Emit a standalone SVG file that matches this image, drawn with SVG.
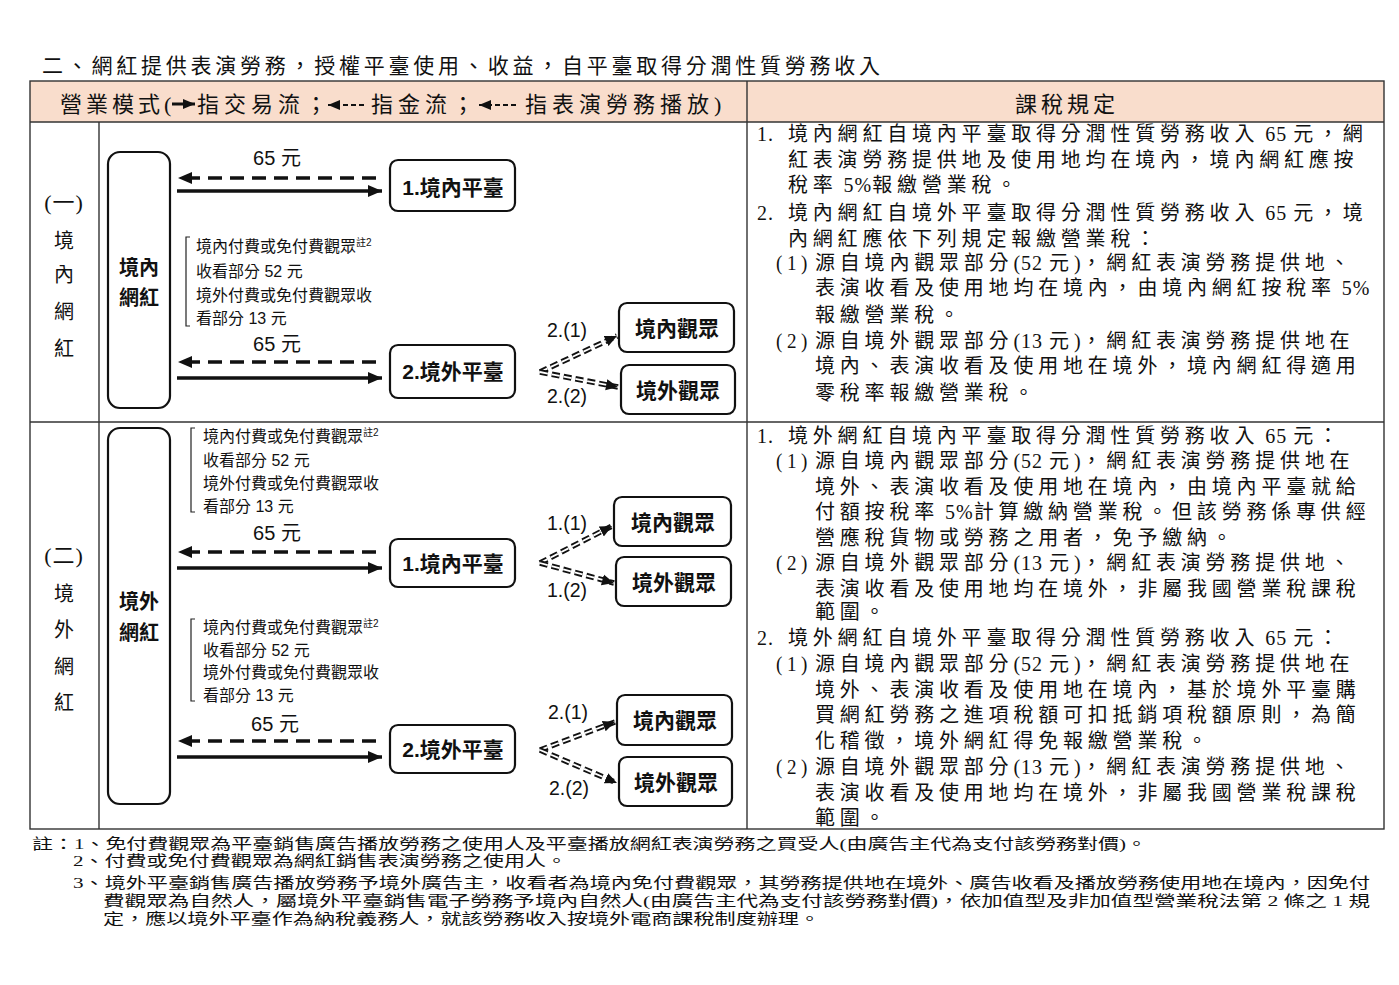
<svg xmlns="http://www.w3.org/2000/svg" width="1399" height="985" viewBox="0 0 1399 985">
<defs>
<style>
.bg{fill:#ffffff}
.tbl{fill:none;stroke:#333;stroke-width:1.4}
.hdr{fill:#F9DDCC}
.ser{font-family:"Liberation Serif","Noto Sans CJK TC",serif;fill:#111}
.sans{font-family:"Liberation Sans","Noto Sans CJK TC",sans-serif;fill:#111}
.r{font-size:20px;letter-spacing:4.8px}
.la{letter-spacing:1px}
.t{font-size:21px}
.h{font-size:22px;letter-spacing:5px}
.h1{font-size:22px;letter-spacing:4px}
.ft{font-size:15px}
.lbl{font-size:20px;text-anchor:middle}
.lp{font-size:22px;letter-spacing:1px}
.box{fill:#fff;stroke:#111;stroke-width:2.2}
.bt{font-size:21px;font-weight:bold;text-anchor:middle}
.bt2{font-size:20px;font-weight:bold;text-anchor:middle}
.amt{font-size:20px;text-anchor:middle}
.note{font-size:16px}
.sup{font-size:10px}
.num{font-size:19.5px;text-anchor:middle}
.brk{fill:none;stroke:#222;stroke-width:1.2}
.money{fill:none;stroke:#111;stroke-width:3.5;stroke-dasharray:14 8}
.trade{fill:none;stroke:#111;stroke-width:3.5}
.dbl1{fill:none;stroke:#111;stroke-width:5.5;stroke-dasharray:8 4}
.dbl2{fill:none;stroke:#fff;stroke-width:1.8;stroke-dasharray:8 4}
</style>
<marker id="ah" markerUnits="userSpaceOnUse" markerWidth="14" markerHeight="14" viewBox="0 0 14 14" refX="14" refY="7" orient="auto">
<path d="M0,1 L14,7 L0,13 z" fill="#111"/>
</marker>
<marker id="ahs" markerUnits="userSpaceOnUse" markerWidth="12" markerHeight="12" viewBox="0 0 12 12" refX="12" refY="6" orient="auto">
<path d="M0,1 L12,6 L0,11 z" fill="#111"/>
</marker>
<marker id="ahd" markerUnits="userSpaceOnUse" markerWidth="12" markerHeight="12" viewBox="0 0 12 12" refX="12" refY="6" orient="auto">
<path d="M0,0.5 L12,6 L0,11.5 z" fill="#111"/>
</marker>
</defs>
<rect class="bg" x="0" y="0" width="1399" height="985"/>

<g id="title">
<text class="ser t" x="42" y="73" textLength="838" lengthAdjust="spacing">二、網紅提供表演勞務，授權平臺使用、收益，自平臺取得分潤性質勞務收入</text>
</g>

<g id="table">
<rect class="hdr" x="30" y="81" width="1354" height="41"/>
<rect class="tbl" x="30" y="81" width="1354" height="748"/>
<line class="tbl" x1="30" y1="122" x2="1384" y2="122"/>
<line class="tbl" x1="30" y1="422" x2="1384" y2="422"/>
<line class="tbl" x1="747" y1="81" x2="747" y2="829"/>
<line class="tbl" x1="99" y1="122" x2="99" y2="829"/>
</g>

<g id="header">
<text class="ser h1" x="60" y="112">營業模式(</text>
<line class="trade" x1="172" y1="104" x2="195" y2="104" style="stroke-width:3" marker-end="url(#ahs)"/>
<text class="ser h" x="197" y="112">指交易流；</text>
<path d="M364,105 H328" fill="none" stroke="#111" stroke-width="2" stroke-dasharray="5 3" marker-end="url(#ahs)"/>
<text class="ser h" x="371" y="112">指金流；</text>
<path d="M516,105 H479" fill="none" stroke="#111" stroke-width="2" stroke-dasharray="5 3" marker-end="url(#ahs)"/>
<text class="ser h" x="525" y="112">指表演勞務播放)</text>
<text class="ser h1" x="1067" y="112" text-anchor="middle">課稅規定</text>
</g>

<g id="row1-label">
<text class="ser lbl lp" x="64" y="210">(一)</text>
<text class="ser lbl" x="64" y="248">境</text>
<text class="ser lbl" x="64" y="282">內</text>
<text class="ser lbl" x="64" y="319">網</text>
<text class="ser lbl" x="64" y="356">紅</text>
</g>
<g id="row2-label">
<text class="ser lbl lp" x="64" y="563">(二)</text>
<text class="ser lbl" x="64" y="601">境</text>
<text class="ser lbl" x="64" y="637">外</text>
<text class="ser lbl" x="64" y="674">網</text>
<text class="ser lbl" x="64" y="710">紅</text>
</g>

<!-- Row 1 nodes -->
<g id="n-domestic-influencer">
<rect class="box" x="108" y="152" width="62" height="256" rx="12"/>
<text class="sans bt2" x="139" y="275">境內</text>
<text class="sans bt2" x="139" y="305">網紅</text>
</g>
<g id="n1-domestic-platform">
<rect class="box" x="390" y="160" width="125" height="51" rx="8"/>
<text class="sans bt" x="453" y="195">1.境內平臺</text>
</g>
<g id="n1-foreign-platform">
<rect class="box" x="390" y="345" width="125" height="53" rx="8"/>
<text class="sans bt" x="453" y="379">2.境外平臺</text>
</g>
<g id="n1-dom-aud">
<rect class="box" x="619" y="303" width="115" height="49" rx="8"/>
<text class="sans bt" x="677" y="336">境內觀眾</text>
</g>
<g id="n1-for-aud">
<rect class="box" x="621" y="365" width="114" height="49" rx="8"/>
<text class="sans bt" x="678" y="398">境外觀眾</text>
</g>

<!-- Row 2 nodes -->
<g id="n-foreign-influencer">
<rect class="box" x="108" y="428" width="62" height="376" rx="12"/>
<text class="sans bt2" x="139" y="609">境外</text>
<text class="sans bt2" x="139" y="640">網紅</text>
</g>
<g id="n2-domestic-platform">
<rect class="box" x="390" y="539" width="125" height="48" rx="8"/>
<text class="sans bt" x="453" y="571">1.境內平臺</text>
</g>
<g id="n2-foreign-platform">
<rect class="box" x="390" y="725" width="125" height="48" rx="8"/>
<text class="sans bt" x="453" y="757">2.境外平臺</text>
</g>
<g id="n2a-dom-aud">
<rect class="box" x="614" y="497" width="117" height="49" rx="8"/>
<text class="sans bt" x="673" y="530">境內觀眾</text>
</g>
<g id="n2a-for-aud">
<rect class="box" x="616" y="557" width="115" height="49" rx="8"/>
<text class="sans bt" x="674" y="590">境外觀眾</text>
</g>
<g id="n2b-dom-aud">
<rect class="box" x="617" y="695" width="115" height="50" rx="8"/>
<text class="sans bt" x="675" y="728">境內觀眾</text>
</g>
<g id="n2b-for-aud">
<rect class="box" x="619" y="757" width="113" height="49" rx="8"/>
<text class="sans bt" x="676" y="790">境外觀眾</text>
</g>

<!-- connectors -->
<g id="connectors">
<path class="money" d="M376,178 H178" marker-end="url(#ah)"/>
<path class="trade" d="M177,191 H382" marker-end="url(#ah)"/>
<path class="money" d="M376,362 H178" marker-end="url(#ah)"/>
<path class="trade" d="M177,378 H382" marker-end="url(#ah)"/>
<path class="dbl1" d="M540,372 L617,336"/><path class="dbl2" d="M540,372 L617,336" marker-end="url(#ahd)"/>
<path class="dbl1" d="M540,372 L618,387"/><path class="dbl2" d="M540,372 L618,387" marker-end="url(#ahd)"/>

<path class="money" d="M376,552 H178" marker-end="url(#ah)"/>
<path class="trade" d="M177,568 H382" marker-end="url(#ah)"/>
<path class="dbl1" d="M540,563 L612,526"/><path class="dbl2" d="M540,563 L612,526" marker-end="url(#ahd)"/>
<path class="dbl1" d="M540,563 L614,583"/><path class="dbl2" d="M540,563 L614,583" marker-end="url(#ahd)"/>

<path class="money" d="M376,741 H178" marker-end="url(#ah)"/>
<path class="trade" d="M177,757 H382" marker-end="url(#ah)"/>
<path class="dbl1" d="M540,750 L615,722"/><path class="dbl2" d="M540,750 L615,722" marker-end="url(#ahd)"/>
<path class="dbl1" d="M540,750 L617,783"/><path class="dbl2" d="M540,750 L617,783" marker-end="url(#ahd)"/>
</g>

<g id="connector-labels">
<text class="sans amt" x="277" y="165">65 元</text>
<text class="sans amt" x="277" y="351">65 元</text>
<text class="sans num" x="567" y="337">2.(1)</text>
<text class="sans num" x="567" y="403">2.(2)</text>
<text class="sans amt" x="277" y="540">65 元</text>
<text class="sans num" x="567" y="530">1.(1)</text>
<text class="sans num" x="567" y="597">1.(2)</text>
<text class="sans amt" x="275" y="731">65 元</text>
<text class="sans num" x="568" y="719">2.(1)</text>
<text class="sans num" x="569" y="795">2.(2)</text>

<path class="brk" d="M190,237 H186 V326 H190"/>
<text class="sans note" x="196" y="252">境內付費或免付費觀眾<tspan class="sup" dy="-6">註2</tspan></text>
<text class="sans note" x="196" y="277">收看部分 52 元</text>
<text class="sans note" x="196" y="301">境外付費或免付費觀眾收</text>
<text class="sans note" x="196" y="324">看部分 13 元</text>

<path class="brk" d="M195,428 H191 V512 H195"/>
<text class="sans note" x="203" y="442">境內付費或免付費觀眾<tspan class="sup" dy="-6">註2</tspan></text>
<text class="sans note" x="203" y="466">收看部分 52 元</text>
<text class="sans note" x="203" y="489">境外付費或免付費觀眾收</text>
<text class="sans note" x="203" y="512">看部分 13 元</text>

<path class="brk" d="M195,619 H191 V701 H195"/>
<text class="sans note" x="203" y="633">境內付費或免付費觀眾<tspan class="sup" dy="-6">註2</tspan></text>
<text class="sans note" x="203" y="656">收看部分 52 元</text>
<text class="sans note" x="203" y="678">境外付費或免付費觀眾收</text>
<text class="sans note" x="203" y="701">看部分 13 元</text>
</g>

<g id="rules1">
<text class="ser r" x="757" y="141"><tspan class="la">1.</tspan><tspan x="788">境內網紅自境內平臺取得分潤性質勞務收入</tspan><tspan class="la"> 65 </tspan>元，網</text>
<text class="ser r" x="788" y="167">紅表演勞務提供地及使用地均在境內，境內網紅應按</text>
<text class="ser r" x="788" y="192">稅率<tspan class="la"> 5%</tspan>報繳營業稅。</text>
<text class="ser r" x="757" y="220"><tspan class="la">2.</tspan><tspan x="788">境內網紅自境外平臺取得分潤性質勞務收入</tspan><tspan class="la"> 65 </tspan>元，境</text>
<text class="ser r" x="788" y="246">內網紅應依下列規定報繳營業稅：</text>
<text class="ser r" x="776" y="270" textLength="36" lengthAdjust="spacingAndGlyphs">(1)</text>
<text class="ser r" x="815" y="270">源自境內觀眾部分<tspan class="la">(52 </tspan>元<tspan class="la">)</tspan>，網紅表演勞務提供地、</text>
<text class="ser r" x="815" y="295">表演收看及使用地均在境內，由境內網紅按稅率<tspan class="la"> 5%</tspan></text>
<text class="ser r" x="815" y="322">報繳營業稅。</text>
<text class="ser r" x="776" y="348" textLength="36" lengthAdjust="spacingAndGlyphs">(2)</text>
<text class="ser r" x="815" y="348">源自境外觀眾部分<tspan class="la">(13 </tspan>元<tspan class="la">)</tspan>，網紅表演勞務提供地在</text>
<text class="ser r" x="815" y="373">境內、表演收看及使用地在境外，境內網紅得適用</text>
<text class="ser r" x="815" y="400">零稅率報繳營業稅。</text>
</g>

<g id="rules2">
<text class="ser r" x="757" y="443"><tspan class="la">1.</tspan><tspan x="788">境外網紅自境內平臺取得分潤性質勞務收入</tspan><tspan class="la"> 65 </tspan>元：</text>
<text class="ser r" x="776" y="468" textLength="36" lengthAdjust="spacingAndGlyphs">(1)</text>
<text class="ser r" x="815" y="468">源自境內觀眾部分<tspan class="la">(52 </tspan>元<tspan class="la">)</tspan>，網紅表演勞務提供地在</text>
<text class="ser r" x="815" y="494">境外、表演收看及使用地在境內，由境內平臺就給</text>
<text class="ser r" x="815" y="519">付額按稅率<tspan class="la"> 5%</tspan>計算繳納營業稅。但該勞務係專供經</text>
<text class="ser r" x="815" y="545">營應稅貨物或勞務之用者，免予繳納。</text>
<text class="ser r" x="776" y="570" textLength="36" lengthAdjust="spacingAndGlyphs">(2)</text>
<text class="ser r" x="815" y="570">源自境外觀眾部分<tspan class="la">(13 </tspan>元<tspan class="la">)</tspan>，網紅表演勞務提供地、</text>
<text class="ser r" x="815" y="596">表演收看及使用地均在境外，非屬我國營業稅課稅</text>
<text class="ser r" x="815" y="619">範圍。</text>
<text class="ser r" x="757" y="645"><tspan class="la">2.</tspan><tspan x="788">境外網紅自境外平臺取得分潤性質勞務收入</tspan><tspan class="la"> 65 </tspan>元：</text>
<text class="ser r" x="776" y="671" textLength="36" lengthAdjust="spacingAndGlyphs">(1)</text>
<text class="ser r" x="815" y="671">源自境內觀眾部分<tspan class="la">(52 </tspan>元<tspan class="la">)</tspan>，網紅表演勞務提供地在</text>
<text class="ser r" x="815" y="697">境外、表演收看及使用地在境內，基於境外平臺購</text>
<text class="ser r" x="815" y="722">買網紅勞務之進項稅額可扣抵銷項稅額原則，為簡</text>
<text class="ser r" x="815" y="748">化稽徵，境外網紅得免報繳營業稅。</text>
<text class="ser r" x="776" y="774" textLength="36" lengthAdjust="spacingAndGlyphs">(2)</text>
<text class="ser r" x="815" y="774">源自境外觀眾部分<tspan class="la">(13 </tspan>元<tspan class="la">)</tspan>，網紅表演勞務提供地、</text>
<text class="ser r" x="815" y="800">表演收看及使用地均在境外，非屬我國營業稅課稅</text>
<text class="ser r" x="815" y="825">範圍。</text>
</g>

<g id="footnotes">
<text class="ser ft" x="32" y="849" textLength="1115" lengthAdjust="spacingAndGlyphs">註：1、免付費觀眾為平臺銷售廣告播放勞務之使用人及平臺播放網紅表演勞務之買受人(由廣告主代為支付該勞務對價)。</text>
<text class="ser ft" x="73" y="866" textLength="494" lengthAdjust="spacingAndGlyphs">2、付費或免付費觀眾為網紅銷售表演勞務之使用人。</text>
<text class="ser ft" x="73" y="888" textLength="1297" lengthAdjust="spacingAndGlyphs">3、境外平臺銷售廣告播放勞務予境外廣告主，收看者為境內免付費觀眾，其勞務提供地在境外、廣告收看及播放勞務使用地在境內，因免付</text>
<text class="ser ft" x="103" y="906" textLength="1267" lengthAdjust="spacingAndGlyphs">費觀眾為自然人，屬境外平臺銷售電子勞務予境內自然人(由廣告主代為支付該勞務對價)，依加值型及非加值型營業稅法第 2 條之 1 規</text>
<text class="ser ft" x="103" y="924" textLength="717" lengthAdjust="spacingAndGlyphs">定，應以境外平臺作為納稅義務人，就該勞務收入按境外電商課稅制度辦理。</text>
</g>
</svg>
